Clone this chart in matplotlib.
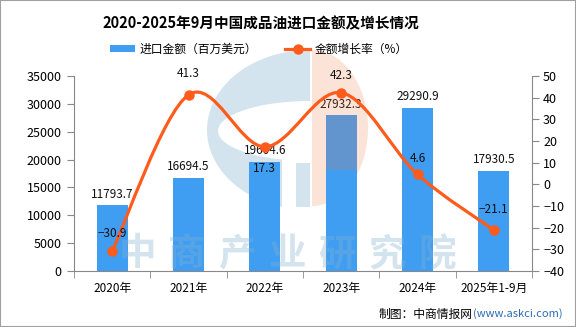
import numpy as np
import matplotlib
matplotlib.use('Agg')
import matplotlib.pyplot as plt
from matplotlib.path import Path
from matplotlib.patches import PathPatch, Polygon, Rectangle
from matplotlib.lines import Line2D
from matplotlib.transforms import Affine2D

plt.rcParams['font.family'] = ['Noto Sans CJK SC', 'DejaVu Sans']

YEARS = ["2020年", "2021年", "2022年", "2023年", "2024年", "2025年1-9月"]
IMPORT_VALUE = [11793.7, 16694.5, 19604.6, 27932.3, 29290.9, 17930.5]
GROWTH_RATE = [-30.9, 41.3, 17.3, 42.3, 4.6, -21.1]
# pixel offsets of the growth labels (positive = above the point)
RATE_LABEL_DY = [18, 21, -22, 17, 16, 21]

BAR_COLOR = '#3f9df2'
LINE_COLOR = '#ff5b1b'
W, H = 576, 327

fig = plt.figure(figsize=(W / 100, H / 100), dpi=100)
px = Affine2D().scale(1 / W, -1 / H).translate(0, 1) + fig.transFigure


def half_ellipse(cx, cy, rx, ry, t0, t1):
    t = np.linspace(t0, t1, 80)
    return np.column_stack([cx + rx * np.cos(t), cy + ry * np.sin(t)])


# faint logo behind the chart
blue_wm = '#d3e4ef'
fig.patches.append(Polygon(half_ellipse(310, 130, 103, 80, np.pi / 2, 1.5 * np.pi),
                           closed=True, fc=blue_wm, ec='none', transform=px, zorder=-3))
fig.patches.append(Polygon(half_ellipse(310, 131, 92, 30, 0, 2 * np.pi),
                           closed=True, fc='white', ec='none', transform=px, zorder=-3))
fig.patches.append(Rectangle((282, 160), 29, 55, fc='white', ec='none', transform=px, zorder=-3))
fig.patches.append(Rectangle((296, 163), 14, 44, fc=blue_wm, ec='none', transform=px, zorder=-3))
orange_pts = half_ellipse(312, 128, 56, 78, -np.pi / 2, np.pi / 2)
low = Polygon(orange_pts, closed=True, fc='#fce3d8', ec='none', transform=px, zorder=-3)
low.set_clip_path(Rectangle((300, 170), 80, 60, transform=px))
fig.patches.append(low)
high = Polygon(orange_pts, closed=True, fc=(240 / 255, 115 / 255, 60 / 255), alpha=0.2,
               ec='none', transform=px, zorder=1)
high.set_clip_path(Rectangle((300, 40), 80, 130, transform=px))
fig.patches.append(high)

# watermark text, semi-transparent over the bars
for i, ch in enumerate("中商产业研究院"):
    fig.text(137 + 50 * i, 254, ch, transform=px, ha='center', va='center',
             fontsize=27, fontweight='bold', color=(129 / 255, 178 / 255, 209 / 255),
             alpha=0.35, zorder=1)

ax = fig.add_axes([74 / W, 1 - 271 / H, (532 - 74) / W, (271 - 76) / H])
ax.patch.set_alpha(0)
x = np.arange(len(YEARS))
ax.bar(x, IMPORT_VALUE, width=0.41, color=BAR_COLOR, zorder=2)
for xi, v in zip(x, IMPORT_VALUE):
    ax.annotate(f'{v:.1f}', (xi, v), xytext=(0, 8), textcoords='offset points',
                ha='center', va='center', fontsize=8.5, color='#111111', zorder=5)

ax.set_xlim(-0.5, len(YEARS) - 0.5)
ax.set_ylim(0, 35000)
ax.set_yticks(np.arange(0, 35001, 5000))
ax.set_xticks(x)
ax.set_xticklabels(YEARS, fontsize=8.5)
ax.set_xticks(np.arange(-0.5, len(YEARS), 1), minor=True)
ax.tick_params(axis='x', which='major', length=0, pad=8)
ax.tick_params(axis='x', which='minor', length=5, color='#888888', direction='out')
ax.tick_params(axis='y', labelsize=9, length=5, color='#888888', pad=4)
for s in ['top', 'right']:
    ax.spines[s].set_visible(False)
for s in ['left', 'bottom']:
    ax.spines[s].set_color('#888888')

ax2 = ax.twinx()
ax2.set_zorder(2)
ax2.patch.set_visible(False)
ax2.set_ylim(-40, 50)
ax2.set_yticks(np.arange(-40, 51, 10))
ax2.tick_params(axis='y', labelsize=9, length=5, color='#888888', pad=3)
for s in ['top', 'left', 'bottom']:
    ax2.spines[s].set_visible(False)
ax2.spines['right'].set_color('#888888')

# smooth (Catmull-Rom style) curve through the points
P = np.column_stack([x, GROWTH_RATE]).astype(float)
verts = [P[0]]
codes = [Path.MOVETO]
n = len(P)
for i in range(n - 1):
    p_prev = P[i - 1] if i > 0 else P[i]
    p_next2 = P[i + 2] if i + 2 < n else P[i + 1]
    c1 = P[i] + (P[i + 1] - p_prev) / 6
    c2 = P[i + 1] - (p_next2 - P[i]) / 6
    verts += [c1, c2, P[i + 1]]
    codes += [Path.CURVE4] * 3
ax2.add_patch(PathPatch(Path(verts, codes), fc='none', ec=LINE_COLOR, lw=2.3,
                        capstyle='round', zorder=3))
ax2.plot(x, GROWTH_RATE, 'o', color=LINE_COLOR, markersize=6.5, zorder=4)
for xi, v, dy in zip(x, GROWTH_RATE, RATE_LABEL_DY):
    ax2.annotate(f'{v:.1f}'.replace('-', '−'), (xi, v), xytext=(0, dy * 0.72),
                 textcoords='offset points', ha='center', va='center',
                 fontsize=8.5, color='#111111', zorder=5)

handles = [Rectangle((0, 0), 1, 1, fc=BAR_COLOR, ec='none'),
           Line2D([], [], color=LINE_COLOR, lw=2.3, marker='o', markersize=6.5)]
fig.legend(handles, ["进口金额（百万美元）", "金额增长率（%）"], ncol=2,
           loc='center', bbox_to_anchor=(259 / W, 1 - 49 / H), frameon=False,
           fontsize=8.5, handlelength=2.1, handleheight=0.6, handletextpad=0.4,
           columnspacing=2.4)

fig.text(261 / W, 1 - 23 / H, "2020-2025年9月中国成品油进口金额及增长情况",
         ha='center', va='center', fontsize=10.5, fontweight='bold')
fig.text(473 / W, 1 - 314 / H, "制图：中商情报网", ha='right', va='center', fontsize=8.5)
fig.text(473 / W, 1 - 314 / H, "(www.askci.com)", ha='left', va='center',
         fontsize=8, color='#2b6cb5')

fig.patches.append(Rectangle((0, 0), 1, 1, transform=fig.transFigure, fill=False,
                             ec='#a0a0a0', lw=1.5, zorder=10))

fig.savefig('out.png', dpi=100)
